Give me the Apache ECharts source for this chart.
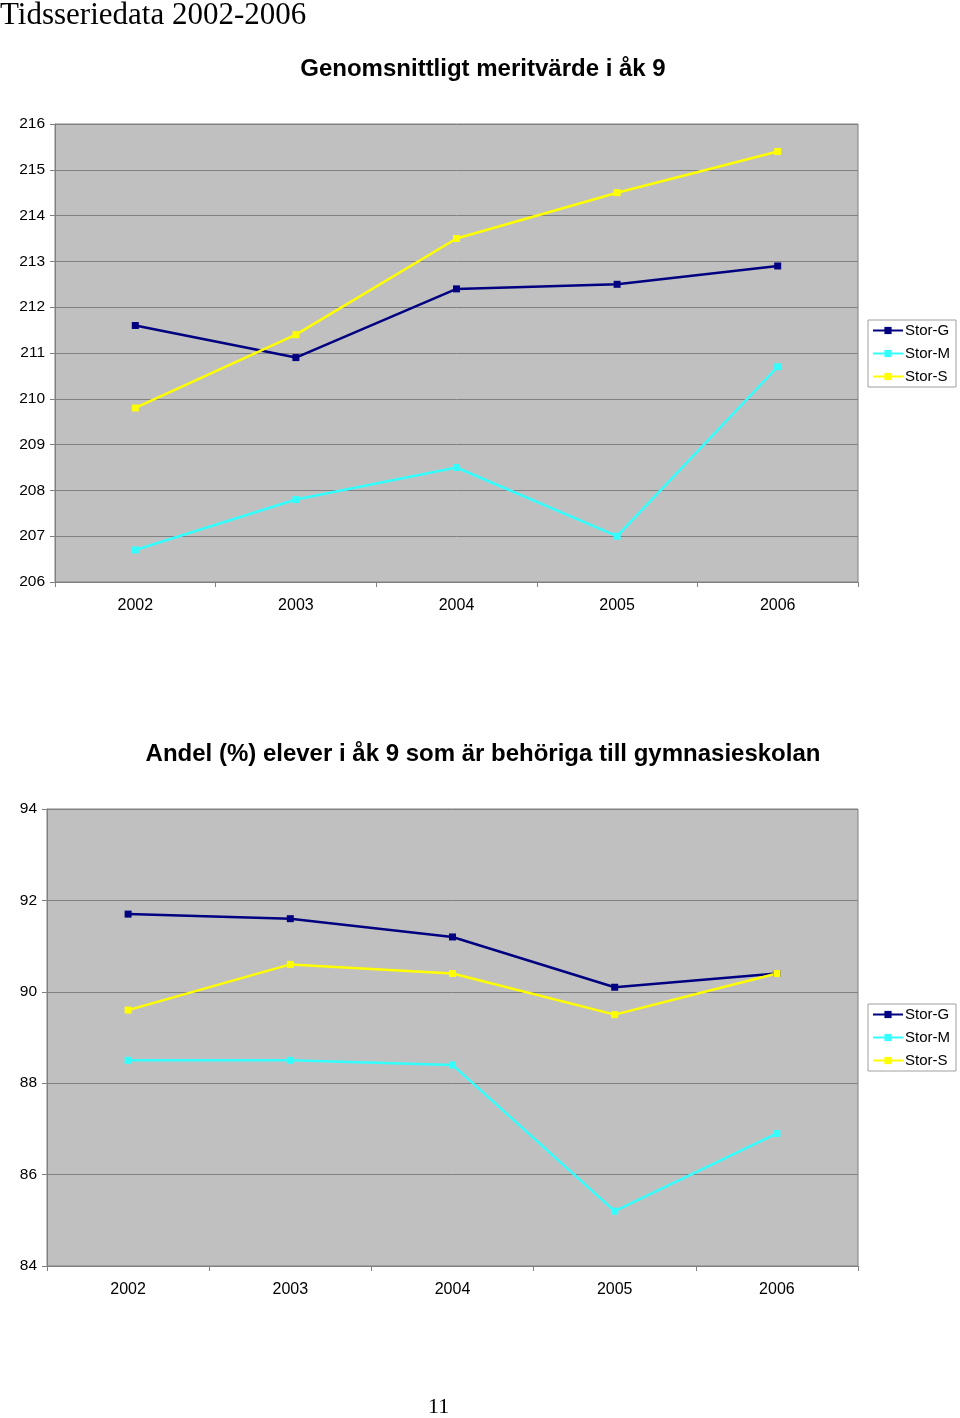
<!DOCTYPE html>
<html>
<head>
<meta charset="utf-8">
<script src="https://cdn.jsdelivr.net/npm/echarts@6/dist/echarts.min.js"></script>
<style>
  html, body { margin: 0; padding: 0; background: #fff; }
  #main { width: 960px; height: 1418px; }
</style>
</head>
<body>
<div id="main"></div>
<script>
// data
const years = ['2002', '2003', '2004', '2005', '2006'];
const seriesNames = ['Stor-G', 'Stor-M', 'Stor-S'];
const colors = ['#000080', '#33ffff', '#ffff00'];

// chart 1: Genomsnittligt meritvärde i åk 9
const merit_G = [211.6, 210.9, 212.4, 212.5, 212.9];
const merit_M = [206.7, 207.8, 208.5, 207.0, 210.7];
const merit_S = [209.8, 211.4, 213.5, 214.5, 215.4];

// chart 2: Andel (%) behöriga
const andel_G = [91.7, 91.6, 91.2, 90.1, 90.4];
const andel_M = [88.5, 88.5, 88.4, 85.2, 86.9];
const andel_S = [89.6, 90.6, 90.4, 89.5, 90.4];

const chart = echarts.init(document.getElementById('main'));

const axisGray = '#808080';
const font = 'Arial, "Liberation Sans", sans-serif';

function xAxis(gridIndex) {
  return {
    type: 'category',
    gridIndex: gridIndex,
    data: years,
    boundaryGap: true,
    axisLine: { lineStyle: { color: axisGray, width: 1 } },
    axisTick: { show: true, inside: false, length: 5, lineStyle: { color: axisGray } },
    axisLabel: { color: '#000', fontSize: 16, fontFamily: font, margin: 16 }
  };
}

function yAxis(gridIndex, min, max, interval) {
  return {
    type: 'value',
    gridIndex: gridIndex,
    min: min, max: max, interval: interval,
    axisLine: { show: true, lineStyle: { color: axisGray, width: 1 } },
    axisTick: { show: true, length: 5, lineStyle: { color: axisGray } },
    axisLabel: { color: '#000', fontSize: 15.5, fontFamily: font, margin: 10 },
    splitLine: { show: true, lineStyle: { color: axisGray, width: 1 } }
  };
}

function line(name, data, idx, axisIndex) {
  return {
    name: name,
    type: 'line',
    xAxisIndex: axisIndex,
    yAxisIndex: axisIndex,
    data: data,
    symbol: 'rect',
    symbolSize: 7,
    showAllSymbol: true,
    color: colors[idx],
    lineStyle: { color: colors[idx], width: 2.5 },
    itemStyle: { color: colors[idx] },
    animation: false
  };
}

function legend(top) {
  return {
    orient: 'vertical',
    left: 868,
    top: top,
    data: seriesNames,
    backgroundColor: '#fff',
    borderColor: '#a0a0a0',
    borderWidth: 1,
    padding: [2, 6, 2, 4],
    itemWidth: 30,
    itemHeight: 9,
    itemGap: 6,
    textStyle: { color: '#000', fontSize: 15, lineHeight: 17, fontFamily: font, padding: [0, 0, 0, -3] }
  };
}

chart.setOption({
  animation: false,
  title: [
    {
      text: 'Genomsnittligt meritvärde i åk 9',
      left: 478, top: 52, textAlign: 'center',
      textStyle: { fontSize: 24, fontWeight: 'bold', fontFamily: font, color: '#000' }
    },
    {
      text: 'Andel (%) elever i åk 9 som är behöriga till gymnasieskolan',
      left: 478, top: 737, textAlign: 'center',
      textStyle: { fontSize: 24, fontWeight: 'bold', fontFamily: font, color: '#000' }
    }
  ],
  legend: [legend(320), legend(1004)],
  grid: [
    { left: 55, top: 124, width: 803, height: 458, show: true,
      backgroundColor: '#c0c0c0', borderColor: axisGray, borderWidth: 1 },
    { left: 47, top: 809, width: 811, height: 457, show: true,
      backgroundColor: '#c0c0c0', borderColor: axisGray, borderWidth: 1 }
  ],
  xAxis: [xAxis(0), xAxis(1)],
  yAxis: [yAxis(0, 206, 216, 1), yAxis(1, 84, 94, 2)],
  series: [
    line('Stor-G', merit_G, 0, 0),
    line('Stor-M', merit_M, 1, 0),
    line('Stor-S', merit_S, 2, 0),
    line('Stor-G', andel_G, 0, 1),
    line('Stor-M', andel_M, 1, 1),
    line('Stor-S', andel_S, 2, 1)
  ],
  graphic: [
    {
      type: 'text', left: 0, top: 0,
      style: { text: 'Tidsseriedata 2002-2006', fontSize: 31,
        fontFamily: '"Liberation Serif", "Times New Roman", serif', fill: '#000' }
    },
    {
      type: 'text', left: 428, top: 1396,
      style: { text: '11', fontSize: 22,
        fontFamily: '"Liberation Serif", "Times New Roman", serif', fill: '#000' }
    }
  ]
});
</script>
</body>
</html>
